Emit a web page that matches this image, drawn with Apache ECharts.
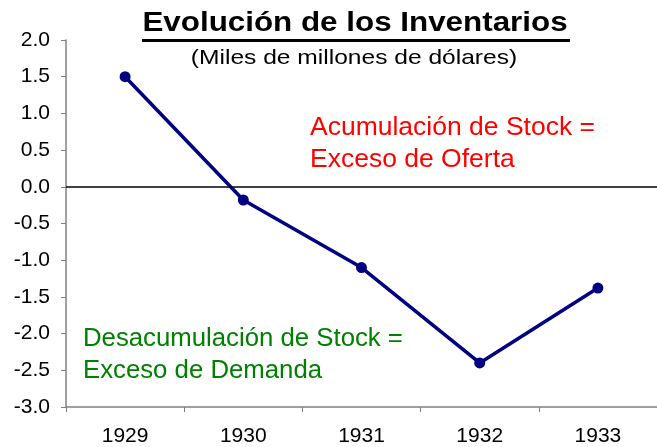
<!DOCTYPE html>
<html>
<head>
<meta charset="utf-8">
<script src="https://cdn.jsdelivr.net/npm/echarts@6/dist/echarts.min.js"></script>
<style>
  html, body { margin: 0; padding: 0; background: #fff; }
  #main { width: 657px; height: 447px; }
</style>
</head>
<body>
<div id="main"></div>
<script>
var years = ["1929", "1930", "1931", "1932", "1933"];
var inventarios = [1.5, -0.18, -1.1, -2.4, -1.38];

var FONT = "Liberation Sans, Arial, sans-serif";

// text drawn at a given centre line, stretched a little sideways like the original
function label(txt, x, y, size, color, align, sx, bold) {
  return {
    type: "text",
    x: x,
    y: y,
    scaleX: sx,
    style: {
      text: txt,
      x: 0,
      y: 0,
      align: align,
      verticalAlign: "middle",
      fill: color,
      font: (bold ? "bold " : "") + size + "px " + FONT
    }
  };
}

var myChart = echarts.init(document.getElementById("main"));

var option = {
  animation: false,
  textStyle: { fontFamily: FONT },
  graphic: [
    label("Evolución de los Inventarios", 355, 23, 28, "#000", "center", 1.12, true),
    {
      type: "rect",
      shape: { x: 142, y: 39, width: 428, height: 3 },
      style: { fill: "#000" }
    },
    label("(Miles de millones de dólares)", 354, 58, 21, "#000", "center", 1.17),
    label("Acumulación de Stock =", 310, 128, 25, "#ff0000", "left", 1.06),
    label("Exceso de Oferta", 310, 160, 25, "#ff0000", "left", 1.06),
    label("Desacumulación de Stock =", 83, 339, 25, "#008000", "left", 1.03),
    label("Exceso de Demanda", 83, 371, 25, "#008000", "left", 1.03)
  ],
  grid: { left: 66, right: -15, top: 40, bottom: 39 },
  xAxis: {
    type: "category",
    data: years,
    boundaryGap: true,
    axisLine: { onZero: false, lineStyle: { color: "#808080", width: 1.5 } },
    axisTick: { show: true, length: 5, lineStyle: { color: "#808080" } },
    axisLabel: { color: "#000", fontSize: 21, margin: 19 }
  },
  yAxis: {
    type: "value",
    min: -3,
    max: 2,
    interval: 0.5,
    axisLine: { show: true, lineStyle: { color: "#808080", width: 1.5 } },
    axisTick: { show: true, length: 5, lineStyle: { color: "#808080" } },
    splitLine: { show: false },
    axisLabel: {
      color: "#000",
      fontSize: 21,
      margin: 16,
      formatter: function (v) { return v.toFixed(1); }
    }
  },
  series: [
    {
      type: "line",
      data: inventarios,
      symbol: "circle",
      symbolSize: 11,
      lineStyle: { color: "#000080", width: 3.5 },
      itemStyle: { color: "#000080" },
      markLine: {
        silent: true,
        symbol: "none",
        label: { show: false },
        lineStyle: { color: "#000", width: 1.5, type: "solid" },
        data: [{ yAxis: 0 }]
      },
      z: 3
    }
  ]
};

myChart.setOption(option);
</script>
</body>
</html>
